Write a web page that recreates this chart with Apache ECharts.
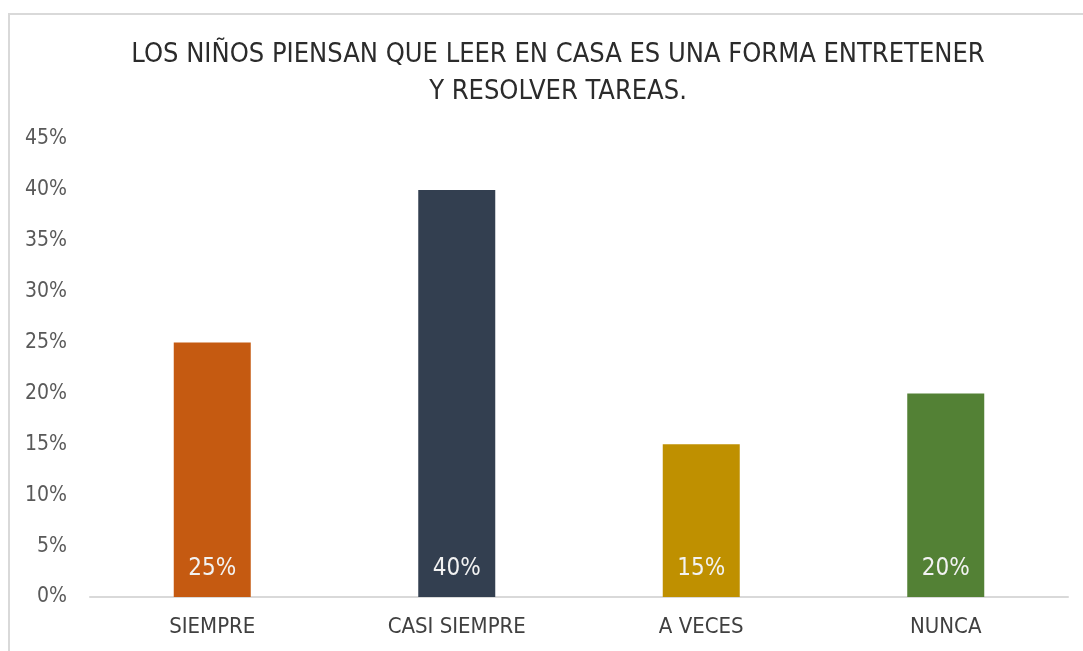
<!DOCTYPE html>
<html>
<head>
<meta charset="utf-8">
<script src="https://cdn.jsdelivr.net/npm/echarts@6/dist/echarts.min.js"></script>
<style>
  html, body { margin: 0; padding: 0; background: #fff; }
  #chart { width: 1083px; height: 651px; }
</style>
</head>
<body>
<div id="chart"></div>
<script>
  var categories = ['SIEMPRE', 'CASI SIEMPRE', 'A VECES', 'NUNCA'];
  var values = [25, 40, 15, 20];
  var barColors = ['#C55A11', '#333F50', '#BF9000', '#538135'];
  var yTicks = [0, 5, 10, 15, 20, 25, 30, 35, 40, 45];

  var font = '"Liberation Sans Narrow", "DejaVu Sans Condensed", "Roboto", sans-serif';

  var chart = echarts.init(document.getElementById('chart'));
  var option = {
    animation: false,
    textStyle: { fontFamily: font },
    graphic: [{
      type: 'rect',
      shape: { x: 9, y: 14, width: 1200, height: 800 },
      style: { fill: 'none', stroke: '#d9d9d9', lineWidth: 2 }
    }],
    title: {
      text: 'LOS NIÑOS PIENSAN QUE LEER EN CASA ES UNA FORMA ENTRETENER\nY RESOLVER TAREAS.',
      left: 553,
      top: 31,
      textAlign: 'center',
      textStyle: {
        fontFamily: font,
        fontSize: 27,
        fontWeight: 'normal',
        color: '#2b2b2b',
        lineHeight: 37,
        align: 'center'
      }
    },
    grid: {
      left: 90,
      right: 15,
      top: 139,
      bottom: 54,
      containLabel: false
    },
    xAxis: {
      type: 'category',
      data: categories,
      axisLine: { lineStyle: { color: '#d9d9d9', width: 2 } },
      axisTick: { show: false },
      axisLabel: {
        color: '#404040',
        fontSize: 22,
        fontFamily: font,
        margin: 19
      }
    },
    yAxis: {
      type: 'value',
      min: yTicks[0],
      max: yTicks[yTicks.length - 1],
      interval: 5,
      axisLine: { show: false },
      axisTick: { show: false },
      splitLine: { show: false },
      axisLabel: {
        color: '#595959',
        fontSize: 21,
        fontFamily: font,
        margin: 23,
        formatter: '{value}%'
      }
    },
    series: [{
      type: 'bar',
      barWidth: 77,
      data: values.map(function (v, i) {
        return { value: v, itemStyle: { color: barColors[i] } };
      }),
      label: {
        show: true,
        position: 'insideBottom',
        distance: 16,
        color: '#f2f2f2',
        fontSize: 24,
        fontFamily: font,
        formatter: '{c}%'
      }
    }]
  };
  chart.setOption(option);
</script>
</body>
</html>
